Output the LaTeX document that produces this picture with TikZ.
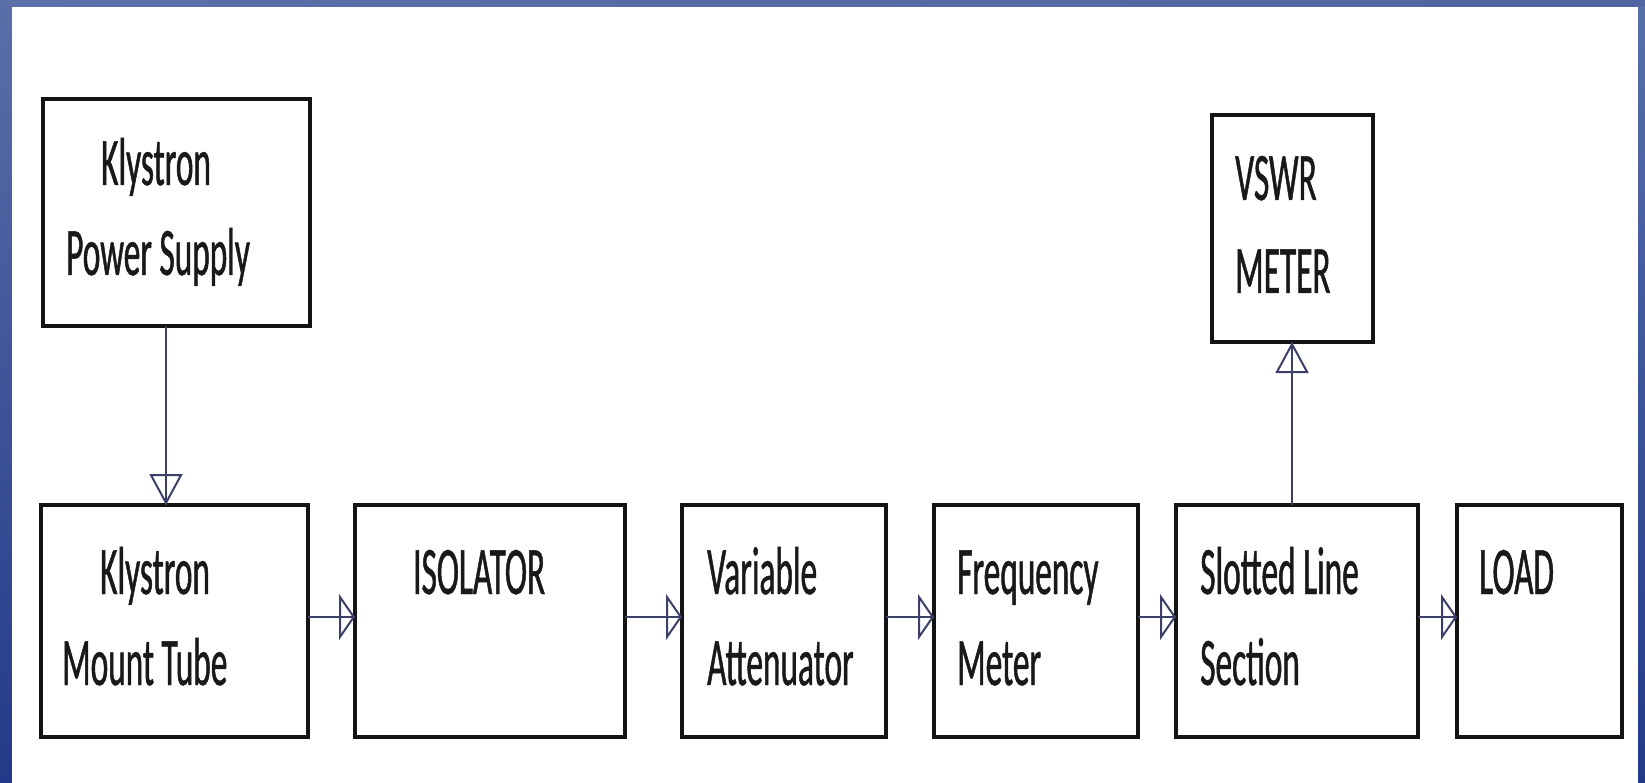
\documentclass[tikz,border=0pt]{standalone}
\usepackage{fontspec}
\setmainfont{Carlito}[FakeStretch=0.49, FakeBold=0.7]
\usetikzlibrary{arrows.meta}

\definecolor{frametop}{HTML}{5A6EA8}
\definecolor{framebot}{HTML}{233A88}
\definecolor{stripl}{HTML}{5C70AA}
\definecolor{stripm}{HTML}{8B9CCD}
\definecolor{stripr}{HTML}{5065A2}
\definecolor{boxline}{HTML}{141414}
\definecolor{wire}{HTML}{3C3F68}

\tikzset{
  block/.style={draw=boxline, line width=3.5pt, fill=white, rectangle,
                inner sep=0pt, outer sep=0pt},
  label/.style={anchor=base west, inner sep=0pt, text=black!90,
                font=\fontsize{68}{80}\selectfont},
  wirebase/.style={draw=wire, line width=2pt, postaction={draw=wire, line width=2pt, -}},
  harr/.style={wirebase, -{Triangle[open, length=16pt, width=46pt, line width=2pt]}},
  varr/.style={wirebase, -{Triangle[open, length=31pt, width=33pt, line width=2pt]}},
}

\begin{document}
\begin{tikzpicture}[x=1pt, y=-1pt]
  % slide frame and white page
  \useasboundingbox (0,0) rectangle (1645,783);
  \shade[top color=frametop, bottom color=framebot] (0,0) rectangle (1645,783);
  \shade[left color=stripl, middle color=stripm, right color=stripr] (0,0) rectangle (1645,7);
  \fill[white] (12,7) rectangle (1638,783);

  % blocks
  \node[block, minimum width=267pt, minimum height=227pt] (ps)   at (176.5,212.5) {};
  \node[block, minimum width=161pt, minimum height=227pt] (vswr) at (1292.5,228.5) {};
  \node[block, minimum width=267pt, minimum height=232pt] (kmt)  at (174.5,621) {};
  \node[block, minimum width=270pt, minimum height=232pt] (iso)  at (490,621) {};
  \node[block, minimum width=204pt, minimum height=232pt] (att)  at (784,621) {};
  \node[block, minimum width=204pt, minimum height=232pt] (freq) at (1036,621) {};
  \node[block, minimum width=242pt, minimum height=232pt] (slot) at (1297,621) {};
  \node[block, minimum width=165pt, minimum height=232pt] (load) at (1539.5,621) {};

  % block texts
  \node[label] (psA)   at (101,185) {Klystron};
  \node[label] (psB)   at (66,275)  {Power Supply};
  \node[label] (vswrA) at (1235,200) {VSWR};
  \node[label] (vswrB) at (1235,293) {METER};
  \node[label] (kmtA)  at (100,594) {Klystron};
  \node[label] (kmtB)  at (62,685)  {Mount Tube};
  \node[label] (isoA)  at (413,594) {ISOLATOR};
  \node[label] (attA)  at (707,594) {Variable};
  \node[label] (attB)  at (707,685) {Attenuator};
  \node[label] (freqA) at (957,594) {Frequency};
  \node[label] (freqB) at (957,685) {Meter};
  \node[label] (slotA) at (1200,594) {Slotted Line};
  \node[label] (slotB) at (1200,685) {Section};
  \node[label] (loadA) at (1479,594) {LOAD};

  % connectors
  \draw[varr] ([xshift=-10.5pt]ps.south) -- ([xshift=-10.5pt]ps.south |- kmt.north);
  \draw[varr] ([xshift=-5pt]slot.north) -- ([xshift=-5pt]slot.north |- vswr.south);
  \draw[harr] ([yshift=4pt]kmt.east)  -- ([yshift=4pt]kmt.east -| iso.west);
  \draw[harr] ([yshift=4pt]iso.east)  -- ([yshift=4pt]iso.east -| att.west);
  \draw[harr] ([yshift=4pt]att.east)  -- ([yshift=4pt]att.east -| freq.west);
  \draw[harr] ([yshift=4pt]freq.east) -- ([yshift=4pt]freq.east -| slot.west);
  \draw[harr] ([yshift=4pt]slot.east) -- ([yshift=4pt]slot.east -| load.west);
\end{tikzpicture}
\end{document}
